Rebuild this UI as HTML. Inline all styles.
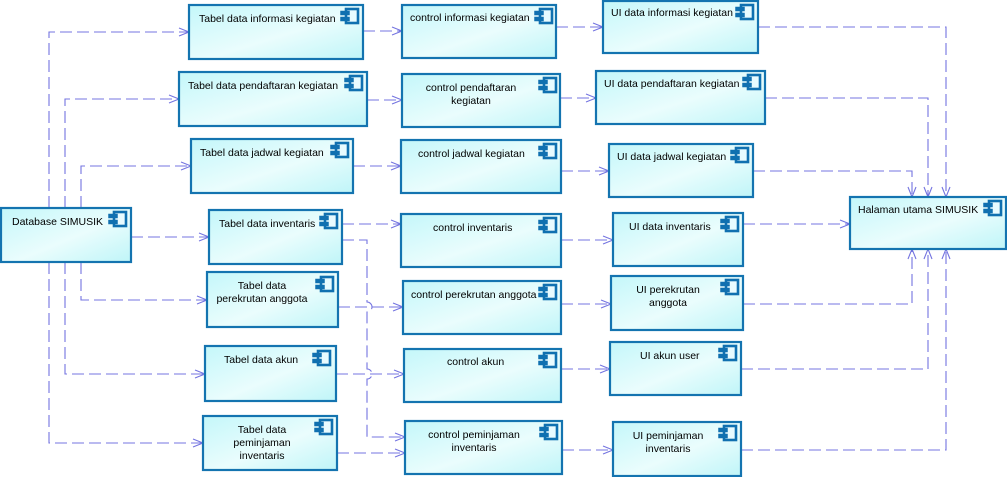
<!DOCTYPE html>
<html><head><meta charset="utf-8"><style>
html,body{margin:0;padding:0;background:#fff;}
svg{display:block;}
text{font-family:"Liberation Sans",Arial,sans-serif;font-size:10.5px;fill:#000;}
</style></head><body>
<svg width="1007" height="477" viewBox="0 0 1007 477" xmlns="http://www.w3.org/2000/svg">
<defs>
<linearGradient id="g" x1="0" y1="0" x2="1" y2="1">
<stop offset="0" stop-color="#c4f7fa"/>
<stop offset="0.55" stop-color="#eafdfd"/>
<stop offset="1" stop-color="#bff5f8"/>
</linearGradient>
<g id="ic">
<rect x="5" y="1" width="12" height="14" fill="#e8fbff" stroke="#1070b0" stroke-width="2.6"/>
<rect x="0" y="3.5" width="8" height="3" fill="#1070b0" stroke="#1070b0" stroke-width="1.5"/>
<rect x="0" y="9.5" width="8" height="3" fill="#1070b0" stroke="#1070b0" stroke-width="1.5"/>
</g>
</defs>

<g fill="none" stroke="#7474e0" stroke-width="1.1" stroke-dasharray="12,5">
<path d="M49,208 V32 H189"/>
<path d="M65,208 V99 H179"/>
<path d="M81,208 V166 H191"/>
<path d="M131,237 H209"/>
<path d="M81,262 V300 H207"/>
<path d="M65,262 V374 H205"/>
<path d="M49,262 V443 H203"/>
<path d="M363,31 H402"/>
<path d="M367,100 H402"/>
<path d="M353,166 H401"/>
<path d="M342,224 H401"/>
<path d="M342,240 H367 V302 A5,5 0 0 1 367,312 V369 A5,5 0 0 1 367,379 V437 H405"/>
<path d="M338,307 H403"/>
<path d="M336,374 H404"/>
<path d="M337,453 H405"/>
<path d="M556,27 H603"/>
<path d="M560,98 H596"/>
<path d="M561,171 H609"/>
<path d="M561,240 H613"/>
<path d="M561,304 H611"/>
<path d="M561,369 H610"/>
<path d="M562,450 H613"/>
<path d="M758,27 H946 V197"/>
<path d="M765,98 H928 V197"/>
<path d="M753,171 H912 V197"/>
<path d="M743,224 H850"/>
<path d="M743,304 H912 V249"/>
<path d="M741,369 H928 V249"/>
<path d="M741,450 H946 V249"/>
</g>
<g fill="none" stroke="#7474e0" stroke-width="1.1">
<path d="M179,28 L189,32 L179,36"/>
<path d="M169,95 L179,99 L169,103"/>
<path d="M181,162 L191,166 L181,170"/>
<path d="M199,233 L209,237 L199,241"/>
<path d="M197,296 L207,300 L197,304"/>
<path d="M195,370 L205,374 L195,378"/>
<path d="M193,439 L203,443 L193,447"/>
<path d="M392,27 L402,31 L392,35"/>
<path d="M392,96 L402,100 L392,104"/>
<path d="M391,162 L401,166 L391,170"/>
<path d="M391,220 L401,224 L391,228"/>
<path d="M395,433 L405,437 L395,441"/>
<path d="M393,303 L403,307 L393,311"/>
<path d="M394,370 L404,374 L394,378"/>
<path d="M395,449 L405,453 L395,457"/>
<path d="M593,23 L603,27 L593,31"/>
<path d="M586,94 L596,98 L586,102"/>
<path d="M599,167 L609,171 L599,175"/>
<path d="M603,236 L613,240 L603,244"/>
<path d="M601,300 L611,304 L601,308"/>
<path d="M600,365 L610,369 L600,373"/>
<path d="M603,446 L613,450 L603,454"/>
<path d="M942,187 L946,197 L950,187"/>
<path d="M924,187 L928,197 L932,187"/>
<path d="M908,187 L912,197 L916,187"/>
<path d="M840,220 L850,224 L840,228"/>
<path d="M908,259 L912,249 L916,259"/>
<path d="M924,259 L928,249 L932,259"/>
<path d="M942,259 L946,249 L950,259"/>
</g>

<g stroke="#1474b0" stroke-width="2.2" fill="url(#g)">
<rect x="1" y="208" width="130" height="54"/>
<rect x="189" y="5" width="174" height="54"/>
<rect x="179" y="72" width="188" height="54"/>
<rect x="191" y="139" width="162" height="54"/>
<rect x="209" y="210" width="133" height="54"/>
<rect x="207" y="272" width="131" height="55"/>
<rect x="205" y="346" width="131" height="55"/>
<rect x="203" y="416" width="134" height="54"/>
<rect x="402" y="5" width="154" height="53"/>
<rect x="402" y="74" width="158" height="53"/>
<rect x="401" y="140" width="160" height="53"/>
<rect x="401" y="214" width="160" height="53"/>
<rect x="403" y="281" width="158" height="53"/>
<rect x="404" y="349" width="157" height="53"/>
<rect x="405" y="421" width="157" height="53"/>
<rect x="603" y="1" width="155" height="52"/>
<rect x="596" y="71" width="169" height="53"/>
<rect x="609" y="144" width="144" height="53"/>
<rect x="613" y="213" width="130" height="53"/>
<rect x="611" y="276" width="132" height="54"/>
<rect x="610" y="342" width="131" height="53"/>
<rect x="613" y="422" width="128" height="54"/>
<rect x="850" y="197" width="156" height="52"/>
</g>

<g>
<use href="#ic" x="109" y="211"/>
<use href="#ic" x="341" y="8"/>
<use href="#ic" x="345" y="75"/>
<use href="#ic" x="331" y="142"/>
<use href="#ic" x="320" y="213"/>
<use href="#ic" x="316" y="276"/>
<use href="#ic" x="313" y="350"/>
<use href="#ic" x="315" y="419"/>
<use href="#ic" x="535" y="8"/>
<use href="#ic" x="539" y="77"/>
<use href="#ic" x="539" y="143"/>
<use href="#ic" x="539" y="217"/>
<use href="#ic" x="539" y="284"/>
<use href="#ic" x="539" y="352"/>
<use href="#ic" x="540" y="424"/>
<use href="#ic" x="736" y="4"/>
<use href="#ic" x="743" y="74"/>
<use href="#ic" x="731" y="147"/>
<use href="#ic" x="721" y="216"/>
<use href="#ic" x="721" y="279"/>
<use href="#ic" x="719" y="345"/>
<use href="#ic" x="719" y="425"/>
<use href="#ic" x="984" y="200"/>
</g>

<g>
<text x="12" y="225">Database SIMUSIK</text>
<text x="199" y="22">Tabel data informasi kegiatan</text>
<text x="188" y="89">Tabel data pendaftaran kegiatan</text>
<text x="200" y="156">Tabel data jadwal kegiatan</text>
<text x="219" y="227">Tabel data inventaris</text>
<text x="262" y="289" text-anchor="middle">Tabel data</text>
<text x="262" y="302" text-anchor="middle">perekrutan anggota</text>
<text x="224" y="363">Tabel data akun</text>
<text x="262" y="433" text-anchor="middle">Tabel data</text>
<text x="262" y="446" text-anchor="middle">peminjaman</text>
<text x="262" y="459" text-anchor="middle">inventaris</text>
<text x="410" y="21">control informasi kegiatan</text>
<text x="471" y="91" text-anchor="middle">control pendaftaran</text>
<text x="471" y="104" text-anchor="middle">kegiatan</text>
<text x="418" y="157">control jadwal kegiatan</text>
<text x="433" y="231">control inventaris</text>
<text x="411" y="298">control perekrutan anggota</text>
<text x="447" y="365">control akun</text>
<text x="474" y="438" text-anchor="middle">control peminjaman</text>
<text x="474" y="451" text-anchor="middle">inventaris</text>
<text x="611" y="16">UI data informasi kegiatan</text>
<text x="604" y="87">UI data pendaftaran kegiatan</text>
<text x="617" y="160">UI data jadwal kegiatan</text>
<text x="629" y="230">UI data inventaris</text>
<text x="668" y="293" text-anchor="middle">UI perekrutan</text>
<text x="668" y="306" text-anchor="middle">anggota</text>
<text x="640" y="359">UI akun user</text>
<text x="668" y="439" text-anchor="middle">UI peminjaman</text>
<text x="668" y="452" text-anchor="middle">inventaris</text>
<text x="858" y="213">Halaman utama SIMUSIK</text>
</g>
</svg>
</body></html>
